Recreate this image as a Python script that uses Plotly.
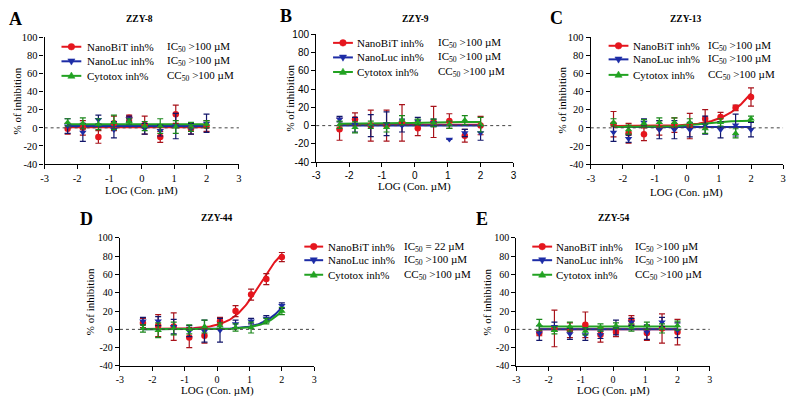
import numpy as np
import plotly.graph_objects as go

# ---------------- data ----------------
log_conc = [-2.29, -1.82, -1.34, -0.86, -0.39, 0.09, 0.57, 1.05, 1.52, 2.00]

x_tick_vals = [-3, -2, -1, 0, 1, 2, 3]
x_tick_text = ["-3", "-2", "-1", "0", "1", "2", "3"]
y_tick_vals = [-40, -20, 0, 20, 40, 60, 80, 100]
y_tick_text = ["-40", "-20", "0", "20", "40", "60", "80", "100"]

series_names = ["NanoBiT inh%", "NanoLuc inh%", "Cytotox inh%"]
compounds = ["ZZY-8", "ZZY-9", "ZZY-13", "ZZY-44", "ZZY-54"]
panel_letters = ["A", "B", "C", "D", "E"]
x_title = "LOG (Con. µM)"
y_title = "% of inhibition"

# ZZY-8
zzy8_nanobit = [-1, 0, -10, 5, 11, 3, -10, 15, -1, 2]
zzy8_nanobit_sd = [6, 8, 7, 8, 3, 10, 6, 10, 6, 6]
zzy8_nanoluc = [2, -5, 9, -2, 10, -1, -3, 2, -1, 5]
zzy8_nanoluc_sd = [8, 10, 5, 9, 3, 6, 6, 14, 6, 10]
zzy8_cytotox = [6, 5, 4, 6, 7, 2, 2, 1, 1, 4]
zzy8_cytotox_sd = [4, 6, 6, 8, 3, 5, 8, 7, 5, 4]
zzy8_fits = [[0.7, 0.7, 0, 1], [2, 2, 0, 1], [4, 4, 0, 1]]   # bottom, top, logIC50, hill
zzy8_potency = ["IC<sub>50</sub> >100 µM", "IC<sub>50</sub> >100 µM", "CC<sub>50</sub> >100 µM"]

# ZZY-9
zzy9_nanobit = [-4, 7, 0, 0, 3, -3, 4, 5, -11, 0]
zzy9_nanobit_sd = [12, 7, 17, 17, 20, 8, 17, 8, 7, 10]
zzy9_nanoluc = [7, 1, 0, 2, 0, 5, 3, -15, -8, -8]
zzy9_nanoluc_sd = [3, 8, 12, 13, 7, 4, 4, 0, 4, 8]
zzy9_cytotox = [1, -2, 1, -2, 6, 4, 3, 1, 6, 1]
zzy9_cytotox_sd = [4, 6, 4, 5, 5, 3, 4, 4, 5, 8]
zzy9_fits = [[1, 1, 0, 1], [0, 0, 0, 1], [2, 4, 0, 1]]
zzy9_potency = ["IC<sub>50</sub> >100 µM", "IC<sub>50</sub> >100 µM", "CC<sub>50</sub> >100 µM"]

# ZZY-13
zzy13_nanobit = [4, -6, -7, 0, 3, 2, 10, 12, 22, 34]
zzy13_nanobit_sd = [14, 11, 7, 8, 8, 14, 10, 5, 3, 10]
zzy13_nanoluc = [-5, -12, 6, -2, -2, -2, 3, -2, 3, -2]
zzy13_nanoluc_sd = [10, 4, 4, 10, 10, 8, 10, 9, 12, 8]
zzy13_cytotox = [6, -2, 5, 6, 6, 6, -1, 6, -6, 10]
zzy13_cytotox_sd = [4, 5, 4, 5, 5, 4, 5, 4, 5, 3]
zzy13_fits = [[2, 100, 2.3, 0.8], [1, 1, 0, 1], [1, 8, 0.5, 1]]
zzy13_potency = ["IC<sub>50</sub> >100 µM", "IC<sub>50</sub> >100 µM", "CC<sub>50</sub> >100 µM"]

# ZZY-44
zzy44_nanobit = [7, 4, 3, -9, -7, 9, 20, 38, 55, 79]
zzy44_nanobit_sd = [5, 12, 15, 11, 8, 4, 6, 6, 6, 5]
zzy44_nanoluc = [9, 9, 3, -2, -2, -1, 6, 9, 12, 26]
zzy44_nanoluc_sd = [4, 5, 8, 6, 12, 13, 4, 3, 3, 3]
zzy44_cytotox = [1, -1, 1, 0, 3, 4, 2, 2, 9, 20]
zzy44_cytotox_sd = [4, 8, 7, 5, 7, 3, 4, 6, 3, 4]
zzy44_fits = [[0.5, 100, 1.34, 1], [0, 100, 2.5, 1], [0, 100, 2.6, 1]]
zzy44_potency = ["IC<sub>50</sub> = 22 µM", "IC<sub>50</sub> >100 µM", "CC<sub>50</sub> >100 µM"]

# ZZY-54
zzy54_nanobit = [-4, 1, -1, 5, -6, -3, 10, -4, 1, -3]
zzy54_nanobit_sd = [3, 20, 8, 14, 8, 5, 5, 8, 16, 14]
zzy54_nanoluc = [-4, 3, -5, -6, -6, 2, 8, -3, 8, -1]
zzy54_nanoluc_sd = [8, 5, 6, 6, 4, 8, 4, 8, 5, 8]
zzy54_cytotox = [5, -1, 3, -2, 2, 4, 2, 4, 1, 4]
zzy54_cytotox_sd = [6, 4, 5, 4, 4, 3, 4, 4, 5, 5]
zzy54_fits = [[0, 0, 0, 1], [0, 0, 0, 1], [3, 3, 0, 1]]
zzy54_potency = ["IC<sub>50</sub> >100 µM", "IC<sub>50</sub> >100 µM", "CC<sub>50</sub> >100 µM"]

panel_data = [
    ([zzy8_nanobit, zzy8_nanoluc, zzy8_cytotox], [zzy8_nanobit_sd, zzy8_nanoluc_sd, zzy8_cytotox_sd], zzy8_fits, zzy8_potency),
    ([zzy9_nanobit, zzy9_nanoluc, zzy9_cytotox], [zzy9_nanobit_sd, zzy9_nanoluc_sd, zzy9_cytotox_sd], zzy9_fits, zzy9_potency),
    ([zzy13_nanobit, zzy13_nanoluc, zzy13_cytotox], [zzy13_nanobit_sd, zzy13_nanoluc_sd, zzy13_cytotox_sd], zzy13_fits, zzy13_potency),
    ([zzy44_nanobit, zzy44_nanoluc, zzy44_cytotox], [zzy44_nanobit_sd, zzy44_nanoluc_sd, zzy44_cytotox_sd], zzy44_fits, zzy44_potency),
    ([zzy54_nanobit, zzy54_nanoluc, zzy54_cytotox], [zzy54_nanobit_sd, zzy54_nanoluc_sd, zzy54_cytotox_sd], zzy54_fits, zzy54_potency),
]

# ---------------- layout / style ----------------
W, H = 791, 403
SERIF = "Liberation Serif, Times New Roman, serif"
SANS = "Liberation Sans, Arial, sans-serif"

colors = ["#e5161e", "#1d2ca6", "#22a222"]
err_colors = ["#a8121a", "#12166a", "#1a861a"]
symbols = ["circle", "triangle-down", "triangle-up"]

# plot boxes in pixels: left, right, top, bottom
boxes = [(41, 237, 32, 163), (315, 514, 29, 161), (592, 786, 32, 163),
         (117, 313, 239, 371), (517, 712, 239, 371)]
tick_fonts = [SERIF, SANS, SERIF, SERIF, SERIF]
tick_sizes = [10.5, 10, 10.5, 10, 10]
title_pos = [(137, 13), (415, 13), (688, 13), (215, 218), (615, 218)]
letter_pos = [(12, 13), (285, 10), (557, 12), (83, 220), (482, 220)]
ytitle_x = [13, 289, 563, 87, 487]
xtitle_y = [190, 186, 192, 396, 396]
# legend: line x0, line x1, text x, potency x, row ys
legends = [(58, 78, 82, 162, [42, 57, 72]),
           (332, 352, 354, 436, [38, 53, 68]),
           (610, 630, 633, 708, [41, 55, 71]),
           (303, 322, 325, 402, [248, 262, 277]),
           (533, 553, 555, 635, [248, 262, 277])]


def fx(px):
    return px / W


def fy(py):
    return 1 - py / H


def hill(x, p):
    bottom, top, logic50, h = p
    return bottom + (top - bottom) / (1 + 10 ** (h * (logic50 - x)))


fig = go.Figure()
shapes = []
annotations = []

for i, (values, sds, fits, potency) in enumerate(panel_data):
    n = "" if i == 0 else str(i + 1)
    xa, ya = "x" + n, "y" + n
    l, r, t, b = boxes[i]
    fig.layout["xaxis" + n] = dict(
        domain=[fx(l), fx(r)], range=[-3, 3], anchor=ya,
        tickvals=x_tick_vals, ticktext=x_tick_text,
        showline=True, linecolor="black", linewidth=1.3,
        ticks="outside", ticklen=4, tickwidth=1.3, tickcolor="black",
        showgrid=False, zeroline=False,
        tickfont=dict(family=tick_fonts[i], size=tick_sizes[i], color="black"))
    fig.layout["yaxis" + n] = dict(
        domain=[fy(b), fy(t)], range=[-40, 100], anchor=xa,
        tickvals=y_tick_vals, ticktext=y_tick_text,
        showline=True, linecolor="black", linewidth=1.3,
        ticks="outside", ticklen=4, tickwidth=1.3, tickcolor="black",
        showgrid=False, zeroline=False,
        tickfont=dict(family=tick_fonts[i], size=tick_sizes[i], color="black"))

    # dotted zero reference line
    shapes.append(dict(type="line", xref=xa + " domain", yref=ya,
                       x0=0, x1=1, y0=0, y1=0,
                       line=dict(color="#444444", width=1, dash="dot")))

    xs = np.array(log_conc)
    xfit = np.linspace(xs.min(), xs.max(), 120)
    for s in range(3):
        fig.add_trace(go.Scatter(
            x=xfit, y=hill(xfit, fits[s]), mode="lines", xaxis=xa, yaxis=ya,
            line=dict(color=colors[s], width=2), showlegend=False, hoverinfo="skip"))
    for s in range(3):
        fig.add_trace(go.Scatter(
            x=log_conc, y=values[s], mode="markers", xaxis=xa, yaxis=ya,
            name=series_names[s], showlegend=False,
            marker=dict(symbol=symbols[s], size=6.5, color=colors[s]),
            error_y=dict(type="data", array=sds[s], visible=True,
                         color=err_colors[s], thickness=1.2, width=3)))

    # panel title and letter
    annotations.append(dict(x=fx(title_pos[i][0]), y=fy(title_pos[i][1]), xref="paper", yref="paper",
                            text="<b>%s</b>" % compounds[i], showarrow=False,
                            xanchor="center", yanchor="middle",
                            font=dict(family=SERIF, size=9.5, color="black")))
    annotations.append(dict(x=fx(letter_pos[i][0]), y=fy(letter_pos[i][1]), xref="paper", yref="paper",
                            text="<b>%s</b>" % panel_letters[i], showarrow=False,
                            xanchor="center", yanchor="middle",
                            font=dict(family=SERIF, size=18, color="black")))
    # axis titles
    annotations.append(dict(x=fx(ytitle_x[i]), y=fy((t + b) / 2), xref="paper", yref="paper",
                            text=y_title, showarrow=False, textangle=-90,
                            xanchor="center", yanchor="middle",
                            font=dict(family=SERIF, size=11, color="black")))
    annotations.append(dict(x=fx((l + r) / 2), y=fy(xtitle_y[i]), xref="paper", yref="paper",
                            text=x_title, showarrow=False,
                            xanchor="center", yanchor="middle",
                            font=dict(family=SERIF, size=11, color="black")))

    # legend
    lx0, lx1, tx, px_, rows = legends[i]
    for s in range(3):
        yy = fy(rows[s])
        shapes.append(dict(type="line", xref="paper", yref="paper",
                           x0=fx(lx0), x1=fx(lx1), y0=yy, y1=yy,
                           line=dict(color=colors[s], width=2)))
        xc = fx((lx0 + lx1) / 2)
        if s == 0:
            shapes.append(dict(type="circle", xref="paper", yref="paper",
                               xsizemode="pixel", ysizemode="pixel", xanchor=xc, yanchor=yy,
                               x0=-3.3, x1=3.3, y0=-3.3, y1=3.3,
                               fillcolor=colors[s], line=dict(color=colors[s], width=0.5)))
        elif s == 1:
            shapes.append(dict(type="path", xref="paper", yref="paper",
                               xsizemode="pixel", ysizemode="pixel", xanchor=xc, yanchor=yy,
                               path="M-3.6,2.4 L3.6,2.4 L0,-3.8 Z",
                               fillcolor=colors[s], line=dict(color=colors[s], width=0.5)))
        else:
            shapes.append(dict(type="path", xref="paper", yref="paper",
                               xsizemode="pixel", ysizemode="pixel", xanchor=xc, yanchor=yy,
                               path="M-3.6,-2.4 L3.6,-2.4 L0,3.8 Z",
                               fillcolor=colors[s], line=dict(color=colors[s], width=0.5)))
        annotations.append(dict(x=fx(tx), y=yy, xref="paper", yref="paper",
                                text=series_names[s], showarrow=False,
                                xanchor="left", yanchor="middle",
                                font=dict(family=SERIF, size=11, color="black")))
        annotations.append(dict(x=fx(px_), y=yy, xref="paper", yref="paper",
                                text=potency[s], showarrow=False,
                                xanchor="left", yanchor="middle",
                                font=dict(family=SERIF, size=11, color="black")))

fig.update_layout(
    width=W, height=H, margin=dict(l=0, r=0, t=0, b=0),
    paper_bgcolor="white", plot_bgcolor="white",
    showlegend=False, shapes=shapes, annotations=annotations)

fig.write_html("out.html", config={"displayModeBar": False},
               post_script="document.body.style.margin='0';document.body.style.overflow='hidden';")
